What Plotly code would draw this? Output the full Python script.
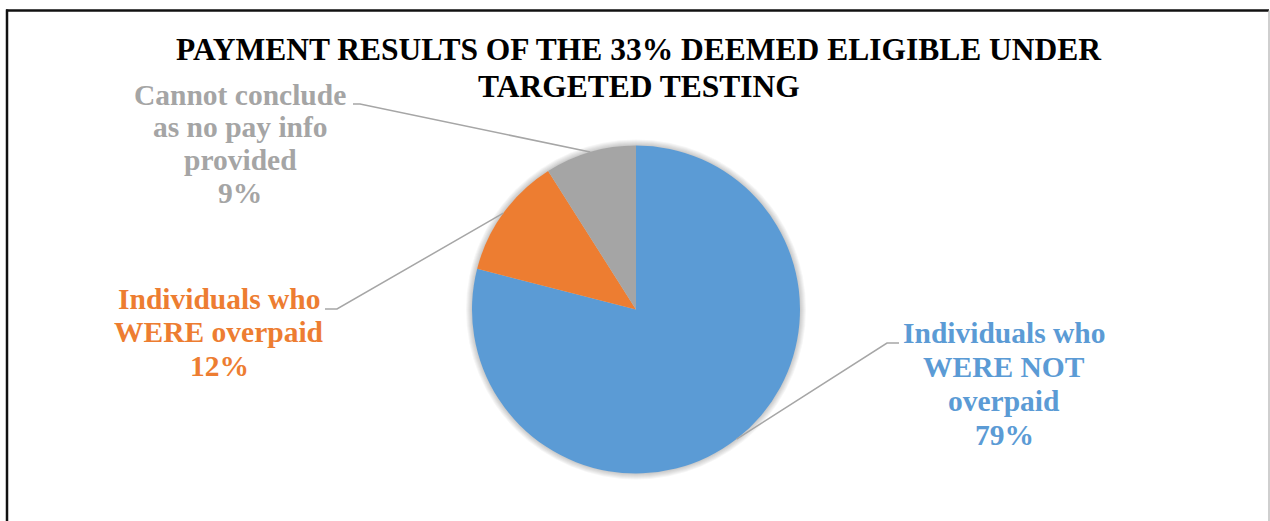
import math
import plotly.graph_objects as go

W, H = 1270, 521

# ---- data -------------------------------------------------------------
categories = [
    "Individuals who WERE NOT overpaid",
    "Individuals who WERE overpaid",
    "Cannot conclude as no pay info provided",
]
shares = [79, 12, 9]
label_lines = [
    ["Individuals who", "WERE NOT", "overpaid"],
    ["Individuals who", "WERE overpaid"],
    ["Cannot conclude", "as no pay info", "provided"],
]
title_lines = ["PAYMENT RESULTS OF THE 33% DEEMED ELIGIBLE UNDER", "TARGETED TESTING"]

# ---- styling / layout (pixels) -----------------------------------------
colors = ["#5B9BD5", "#ED7D31", "#A5A5A5"]
FONT = "Liberation Serif, Times New Roman, serif"
CX, CY, R = 636, 309.5, 164          # pie centre and radius
LABEL_FS = 29.5
TITLE_FS = 31.5
# label block: centre x, first baseline y, line step, leader start (x, y), elbow x
label_pos = [
    dict(cx=1004, y0=343, step=34.0, ax=899, ay=343, ex=887),
    dict(cx=219, y0=309, step=33.5, ax=325, ay=309, ex=337),
    dict(cx=240, y0=105, step=32.7, ax=353, ay=104, ex=360),
]
title_pos = dict(cx=639, baselines=[60, 97])


def px(x):
    return x / W


def py(y):
    return 1 - y / H


fig = go.Figure()

fig.add_trace(go.Pie(
    labels=categories,
    values=shares,
    sort=False,
    direction="clockwise",
    rotation=0,
    marker=dict(colors=colors, line=dict(width=0)),
    textinfo="none",
    hoverinfo="label+percent",
    showlegend=False,
    domain=dict(x=[px(CX - R), px(CX + R)], y=[py(CY + R), py(CY - R)]),
))

shapes = []
annotations = []

# soft shadow ring round the pie
for k in range(1, 7):
    shapes.append(dict(
        type="circle", xref="paper", yref="paper", layer="below",
        x0=px(CX - R - k), x1=px(CX + R + k),
        y0=py(CY + R + k), y1=py(CY - R - k),
        fillcolor="rgba(0,0,0,0.035)", line=dict(width=0),
    ))

# labels with leader lines to each slice's mid-angle on the rim
total = sum(shares)
cum = 0
for v, lines, col, pos in zip(shares, label_lines, colors, label_pos):
    mid = (cum + v / 2) / total
    cum += v
    theta = 2 * math.pi * mid
    rx = CX + R * math.sin(theta)
    ry = CY - R * math.cos(theta)
    shapes.append(dict(
        type="path", xref="paper", yref="paper",
        path=f"M {px(pos['ax'])} {py(pos['ay'])} L {px(pos['ex'])} {py(pos['ay'])} L {px(rx)} {py(ry)}",
        line=dict(color="#A6A6A6", width=1.5),
    ))
    for i, txt in enumerate(lines + [f"{v}%"]):
        base = pos["y0"] + i * pos["step"]
        annotations.append(dict(
            text=f"<b>{txt}</b>", xref="paper", yref="paper",
            x=px(pos["cx"]), y=py(base - 0.891 * LABEL_FS - 2),
            xanchor="center", yanchor="top", showarrow=False,
            font=dict(family=FONT, size=LABEL_FS, color=col),
        ))

for txt, base in zip(title_lines, title_pos["baselines"]):
    annotations.append(dict(
        text=f"<b>{txt}</b>", xref="paper", yref="paper",
        x=px(title_pos["cx"]), y=py(base - 0.891 * TITLE_FS - 2),
        xanchor="center", yanchor="top", showarrow=False,
        font=dict(family=FONT, size=TITLE_FS, color="#000000"),
    ))

# chart frame
shapes += [
    dict(type="line", xref="paper", yref="paper", x0=px(7), x1=px(7), y0=py(9.5), y1=py(H + 5),
         line=dict(color="#111111", width=2.5)),
    dict(type="line", xref="paper", yref="paper", x0=px(6), x1=px(1269), y0=py(10.5), y1=py(10.5),
         line=dict(color="#111111", width=2.5)),
    dict(type="line", xref="paper", yref="paper", x0=px(1269), x1=px(1269), y0=py(10.5), y1=py(H + 5),
         line=dict(color="#BFBFBF", width=1.5)),
]

fig.update_layout(
    width=W, height=H,
    margin=dict(l=0, r=0, t=0, b=0),
    paper_bgcolor="white", plot_bgcolor="white",
    shapes=shapes, annotations=annotations,
)

fig.write_html("out.html")
